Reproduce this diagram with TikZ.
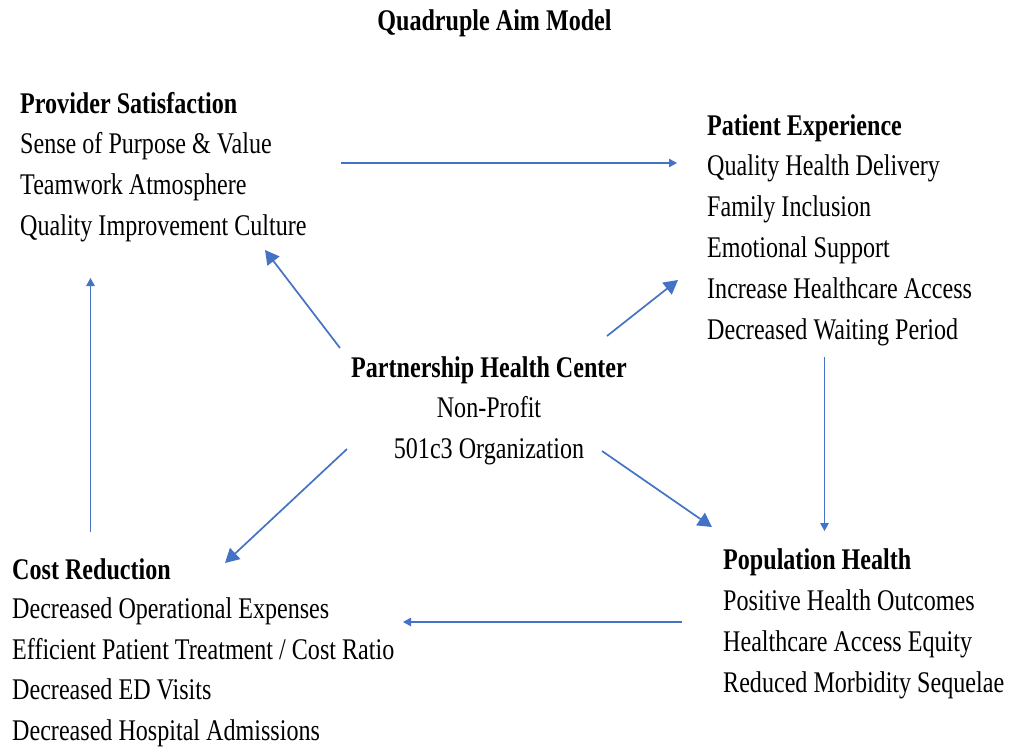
\documentclass[tikz,border=0pt]{standalone}
\usepackage{fontspec}
\setmainfont[FakeStretch=0.803]{Liberation Serif}
\usetikzlibrary{arrows.meta}
\definecolor{linkblue}{HTML}{4472C4}
\begin{document}
\begin{tikzpicture}[x=1pt,y=-1pt,
  txt/.style={inner sep=0pt, anchor=base west, font=\fontsize{30}{40}\selectfont},
  head/.style={txt, font=\fontsize{30}{40}\selectfont\bfseries},
  thinarrow/.style={draw=linkblue, line width=1.1pt, -{Triangle[length=8pt,width=8.5pt]}},
  thickarrow/.style={draw=linkblue, line width=1.7pt, -{Triangle[length=14pt,width=15pt]}}]
\useasboundingbox[fill=white] (0,0) rectangle (1010,750);

% title
\node[head, anchor=base] (title) at (494.5,30) {Quadruple Aim Model};

% Provider Satisfaction
\node[head] (ps) at (20,113) {Provider Satisfaction};
\node[txt] (ps1) at (20,153.5) {Sense of Purpose \& Value};
\node[txt] (ps2) at (20,194.2) {Teamwork Atmosphere};
\node[txt] (ps3) at (20,235) {Quality Improvement Culture};

% Patient Experience
\node[head] (pe) at (707,135) {Patient Experience};
\node[txt] (pe1) at (707,175.5) {Quality Health Delivery};
\node[txt] (pe2) at (707,216.5) {Family Inclusion};
\node[txt] (pe3) at (707,257.5) {Emotional Support};
\node[txt] (pe4) at (707,298.5) {Increase Healthcare Access};
\node[txt] (pe5) at (707,339) {Decreased Waiting Period};

% Partnership Health Center (centre)
\node[head, anchor=base] (phc) at (489,377) {Partnership Health Center};
\node[txt, anchor=base] (phc1) at (489,417.5) {Non-Profit};
\node[txt, anchor=base] (phc2) at (489,458.5) {501c3 Organization};

% Cost Reduction
\node[head] (cr) at (12,579) {Cost Reduction};
\node[txt] (cr1) at (12,618.5) {Decreased Operational Expenses};
\node[txt] (cr2) at (12,659) {Efficient Patient Treatment / Cost Ratio};
\node[txt] (cr3) at (12,699.5) {Decreased ED Visits};
\node[txt] (cr4) at (12,740) {Decreased Hospital Admissions};

% Population Health
\node[head] (ph) at (723,569) {Population Health};
\node[txt] (ph1) at (723,610) {Positive Health Outcomes};
\node[txt] (ph2) at (723,651) {Healthcare Access Equity};
\node[txt] (ph3) at (723,692) {Reduced Morbidity Sequelae};

% arrow end points
\coordinate (psOut) at (341,163);
\coordinate (peIn) at (677,163);
\coordinate (peOut) at (824.5,357);
\coordinate (phIn) at (824.5,531);
\coordinate (phOut) at (682,622);
\coordinate (crIn) at (403,622);
\coordinate (crOut) at (90.5,532);
\coordinate (psIn) at (90.5,278);
\coordinate (cNW) at (340,348);
\coordinate (psTip) at (265,250);
\coordinate (cNE) at (607,336);
\coordinate (peTip) at (678,280);
\coordinate (cSW) at (347,449);
\coordinate (crTip) at (225,563);
\coordinate (cSE) at (602,451);
\coordinate (phTip) at (712,527);

% outer cycle
\draw[thinarrow] (psOut) -- (peIn);
\draw[thinarrow] (peOut) -- (phIn);
\draw[thinarrow] (phOut) -- (crIn);
\draw[thinarrow] (crOut) -- (psIn);

% from the centre to the four aims
\draw[thickarrow] (cNW) -- (psTip);
\draw[thickarrow] (cNE) -- (peTip);
\draw[thickarrow] (cSW) -- (crTip);
\draw[thickarrow] (cSE) -- (phTip);
\end{tikzpicture}
\end{document}
